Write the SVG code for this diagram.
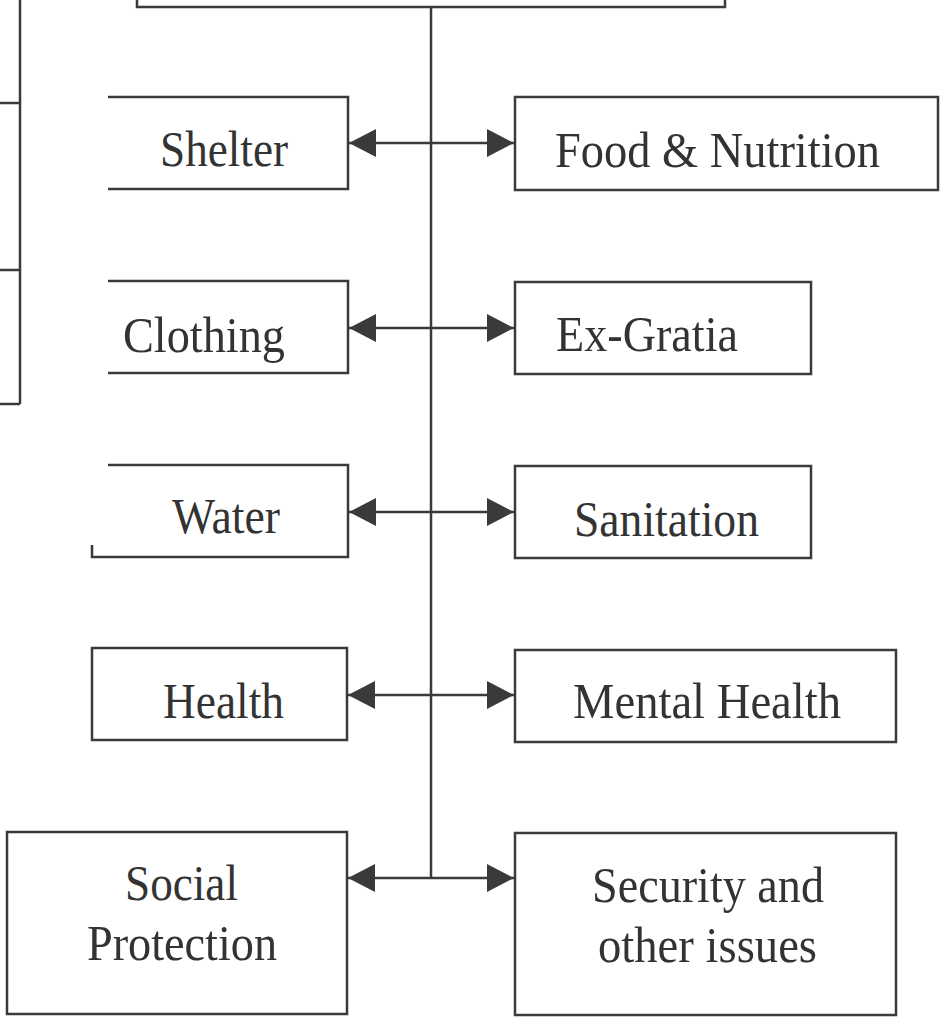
<svg xmlns="http://www.w3.org/2000/svg" width="941" height="1022" viewBox="0 0 941 1022">
<style>
.box{fill:none;stroke:#3a3a3a;stroke-width:2.5}
.ln{fill:none;stroke:#3a3a3a;stroke-width:2.5}
.lbl{font-family:"Liberation Serif","Times New Roman",serif;font-size:50px;fill:#333}
</style>
<defs>
<marker id="ah" markerUnits="userSpaceOnUse" markerWidth="28" markerHeight="30" refX="27" refY="15" orient="auto-start-reverse">
<path d="M0,1 L27,15 L0,29 z" fill="#3a3a3a"/>
</marker>
</defs>
<rect width="941" height="1022" fill="#fff"/>
<g id="top-box"><path class="box" d="M137,0 V7 H725 V0"/></g>
<g id="left-box"><path class="box" d="M0,103 H20 M0,270 H20 M0,404 H20 M20,0 V404"/></g>
<g id="shelter"><path class="box" d="M108,97 H348 V189 H108"/><text class="lbl" x="160" y="166" textLength="128" lengthAdjust="spacingAndGlyphs">Shelter</text></g>
<g id="food"><rect class="box" x="515" y="97" width="423" height="93"/><text class="lbl" x="555" y="167" textLength="325" lengthAdjust="spacingAndGlyphs">Food &amp; Nutrition</text></g>
<g id="clothing"><path class="box" d="M108,281 H348 V373 H108"/><text class="lbl" x="123" y="352" textLength="162" lengthAdjust="spacingAndGlyphs">Clothing</text></g>
<g id="exgratia"><rect class="box" x="515" y="282" width="296" height="92"/><text class="lbl" x="556" y="351" textLength="182" lengthAdjust="spacingAndGlyphs">Ex-Gratia</text></g>
<g id="water"><path class="box" d="M108,465 H348 V557 H92 V545"/><text class="lbl" x="172" y="533" textLength="108" lengthAdjust="spacingAndGlyphs">Water</text></g>
<g id="sanitation"><rect class="box" x="515" y="466" width="296" height="92"/><text class="lbl" x="574" y="536" textLength="185" lengthAdjust="spacingAndGlyphs">Sanitation</text></g>
<g id="health"><rect class="box" x="92" y="648" width="255" height="92"/><text class="lbl" x="163" y="718" textLength="121" lengthAdjust="spacingAndGlyphs">Health</text></g>
<g id="mental"><rect class="box" x="515" y="650" width="381" height="92"/><text class="lbl" x="573" y="718" textLength="268" lengthAdjust="spacingAndGlyphs">Mental Health</text></g>
<g id="social"><rect class="box" x="7" y="832" width="340" height="182"/><text class="lbl" x="125" y="900" textLength="113" lengthAdjust="spacingAndGlyphs">Social</text><text class="lbl" x="87" y="960" textLength="190" lengthAdjust="spacingAndGlyphs">Protection</text></g>
<g id="security"><rect class="box" x="515" y="833" width="381" height="182"/><text class="lbl" x="592" y="902" textLength="232" lengthAdjust="spacingAndGlyphs">Security and</text><text class="lbl" x="598" y="962" textLength="219" lengthAdjust="spacingAndGlyphs">other issues</text></g>
<g id="connectors">
<path class="ln" d="M431,7 V878"/>
<line class="ln" x1="349" y1="143" x2="514" y2="143" marker-start="url(#ah)" marker-end="url(#ah)"/>
<line class="ln" x1="349" y1="328" x2="514" y2="328" marker-start="url(#ah)" marker-end="url(#ah)"/>
<line class="ln" x1="349" y1="512" x2="514" y2="512" marker-start="url(#ah)" marker-end="url(#ah)"/>
<line class="ln" x1="348" y1="695" x2="514" y2="695" marker-start="url(#ah)" marker-end="url(#ah)"/>
<line class="ln" x1="348" y1="878" x2="514" y2="878" marker-start="url(#ah)" marker-end="url(#ah)"/>
</g>
</svg>
